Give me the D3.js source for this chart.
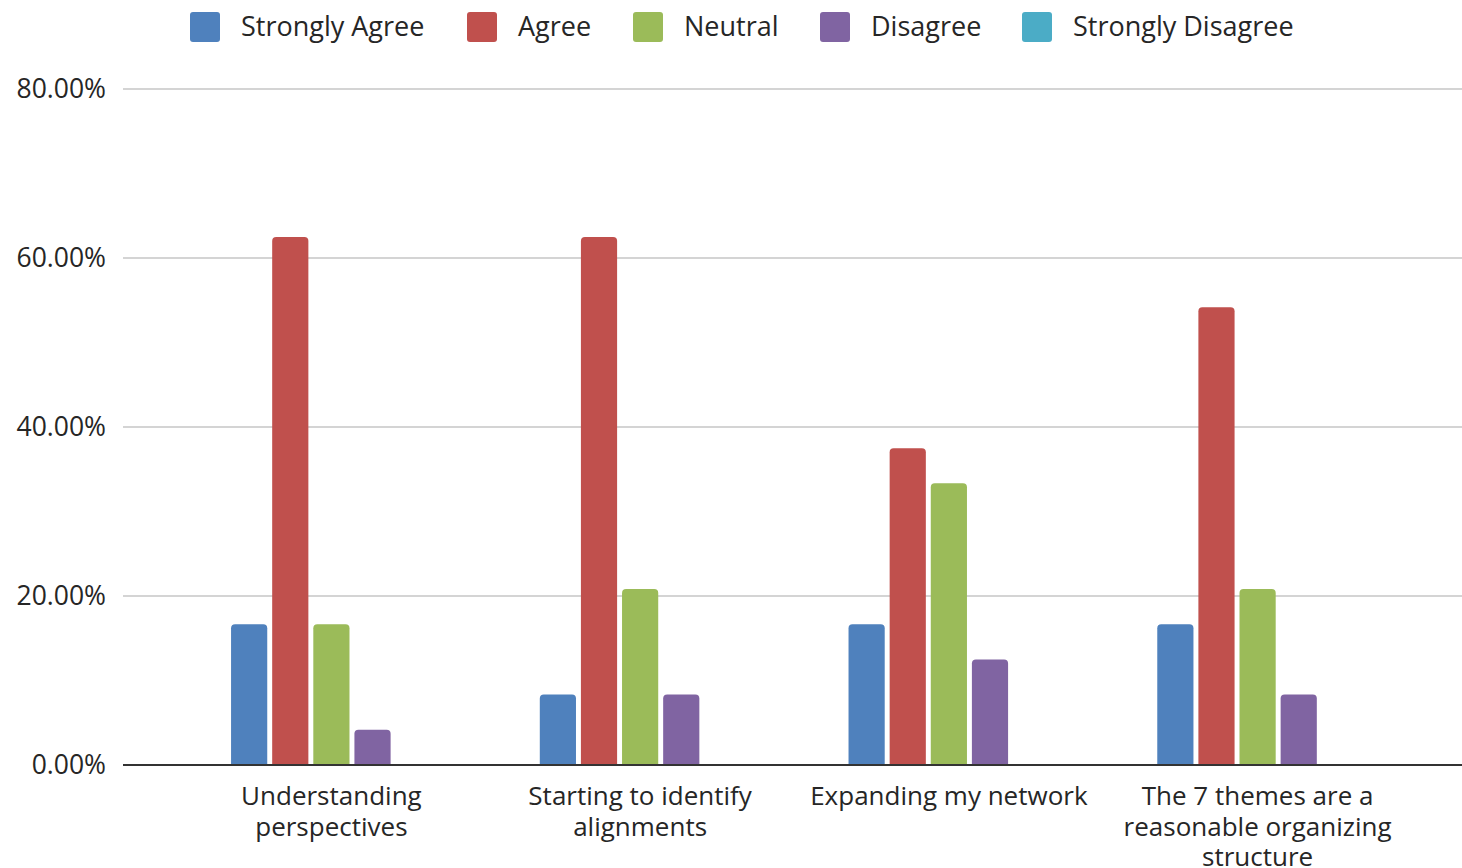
<!DOCTYPE html>
<html>
<head>
<meta charset="utf-8">
<script src="https://cdn.jsdelivr.net/npm/d3@7"></script>
<style>
  body { margin: 0; background: #fff; }
  text { font-family: "Open Sans", "Noto Sans", sans-serif; fill: #262626; }
</style>
</head>
<body>
<div id="chart"></div>
<script>
var svgWidth = 1462;
var svgHeight = 868;

// data
var categories = [
  ["Understanding", "perspectives"],
  ["Starting to identify", "alignments"],
  ["Expanding my network"],
  ["The 7 themes are a", "reasonable organizing", "structure"]
];
var seriesNames = ["Strongly Agree", "Agree", "Neutral", "Disagree", "Strongly Disagree"];
var stronglyAgree = [16.67, 8.33, 16.67, 16.67];
var agree = [62.5, 62.5, 37.5, 54.17];
var neutral = [16.67, 20.83, 33.33, 20.83];
var disagree = [4.17, 8.33, 12.5, 8.33];
var stronglyDisagree = [0, 0, 0, 0];
var yTicks = [0, 20, 40, 60, 80];
var colors = ["#4f81bd", "#c0504d", "#9bbb59", "#8064a2", "#4bacc6"];

var seriesValues = [stronglyAgree, agree, neutral, disagree, stronglyDisagree];

var margin = { top: 89, left: 123, right: -4, bottom: 103 };
var height = svgHeight - margin.top - margin.bottom;
var width = svgWidth - margin.left - margin.right;

var svg = d3.select("#chart")
  .append("svg")
  .attr("width", svgWidth)
  .attr("height", svgHeight);

var chartGroup = svg.append("g")
  .attr("transform", `translate(${margin.left}, ${margin.top})`);

var catIdx = categories.map((c, i) => i);

var x0 = d3.scaleBand()
  .domain(catIdx)
  .range([0, width])
  .paddingInner(0.35)
  .paddingOuter(0.35);

var x1 = d3.scaleBand()
  .domain(seriesNames)
  .range([0, x0.bandwidth()])
  .paddingInner(0.12);

var yScale = d3.scaleLinear()
  .domain([0, 80])
  .range([height, 0]);

// gridlines
chartGroup.append("g")
  .selectAll("line")
  .data(yTicks.filter(d => d > 0))
  .enter()
  .append("line")
  .attr("x1", 0)
  .attr("x2", svgWidth - margin.left)
  .attr("y1", d => yScale(d))
  .attr("y2", d => yScale(d))
  .attr("stroke", "#d4d4d4")
  .attr("stroke-width", 2);

// y axis labels
var yAxis = d3.axisLeft(yScale)
  .tickValues(yTicks)
  .tickSize(0)
  .tickPadding(17)
  .tickFormat(d => d3.format(".2f")(d) + "%");

chartGroup.append("g")
  .call(yAxis)
  .call(g => g.select(".domain").remove())
  .selectAll("text")
  .style("font-size", "26.5px")
  .attr("fill", "#262626")
  .style("font-family", "'Open Sans', sans-serif");

// bars with rounded tops
function topRounded(x, y, w, h, r) {
  if (h <= 0) return "";
  r = Math.min(r, h, w / 2);
  return `M${x},${y + h}V${y + r}Q${x},${y} ${x + r},${y}H${x + w - r}Q${x + w},${y} ${x + w},${y + r}V${y + h}Z`;
}

var barData = [];
catIdx.forEach(function(ci) {
  seriesNames.forEach(function(s, si) {
    barData.push({ cat: ci, series: s, value: seriesValues[si][ci], color: colors[si] });
  });
});

chartGroup.selectAll(".bar")
  .data(barData)
  .enter()
  .append("path")
  .attr("class", "bar")
  .attr("fill", d => d.color)
  .attr("d", d => topRounded(
    x0(d.cat) + x1(d.series),
    yScale(d.value),
    x1.bandwidth(),
    yScale(0) - yScale(d.value),
    4));

// baseline
chartGroup.append("line")
  .attr("x1", 0)
  .attr("x2", svgWidth - margin.left)
  .attr("y1", yScale(0))
  .attr("y2", yScale(0))
  .attr("stroke", "#333")
  .attr("stroke-width", 2);

// category labels
var catLabels = chartGroup.selectAll(".cat")
  .data(categories)
  .enter()
  .append("text")
  .attr("class", "cat")
  .attr("text-anchor", "middle")
  .attr("x", (d, i) => x0(i) + x0.bandwidth() / 2)
  .attr("y", height + 40)
  .style("font-size", "26px");

catLabels.selectAll("tspan")
  .data(d => d)
  .enter()
  .append("tspan")
  .attr("x", function() { return d3.select(this.parentNode).attr("x"); })
  .attr("dy", (d, i) => i === 0 ? 0 : 30.5)
  .text(d => d);

// legend
var legendX = [190, 467, 633, 820, 1022];
var legend = svg.append("g")
  .selectAll("g")
  .data(seriesNames)
  .enter()
  .append("g")
  .attr("transform", (d, i) => `translate(${legendX[i]}, 12)`);

legend.append("rect")
  .attr("width", 30)
  .attr("height", 30)
  .attr("rx", 3)
  .attr("fill", (d, i) => colors[i]);

legend.append("text")
  .attr("x", 51)
  .attr("y", 24)
  .style("font-size", "27px")
  .text(d => d);
</script>
</body>
</html>
